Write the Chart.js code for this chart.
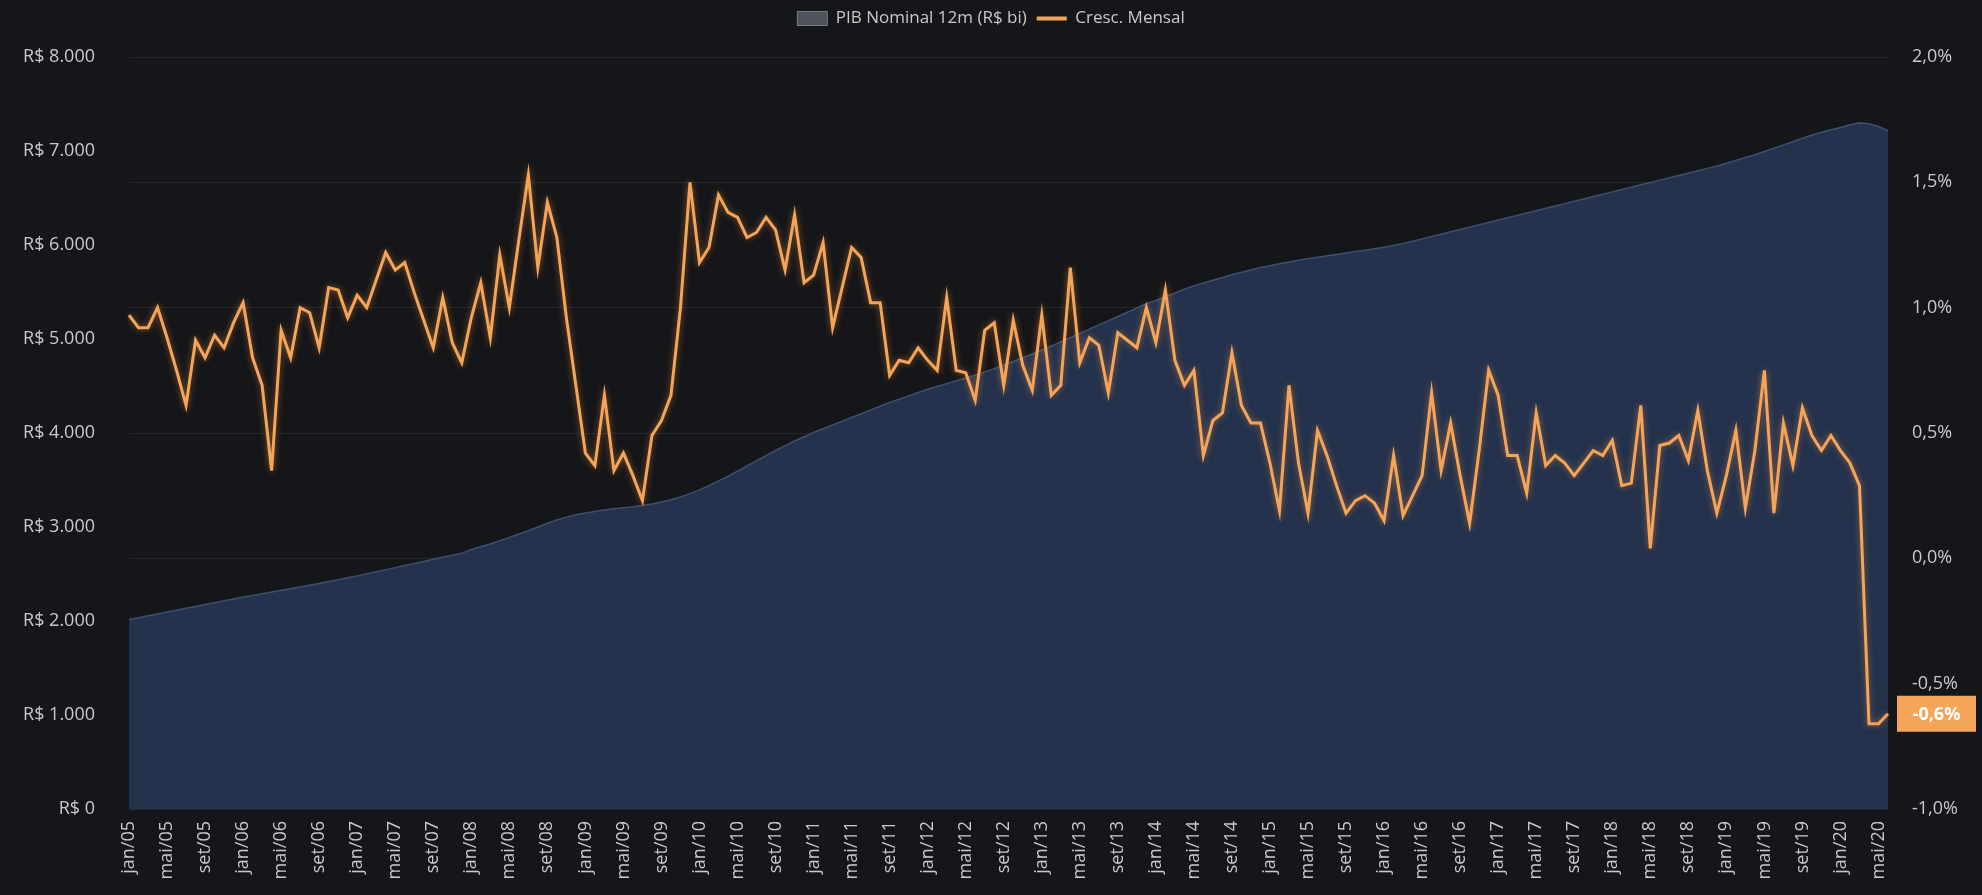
<!DOCTYPE html>
<html>
<head>
<meta charset="utf-8">
<script src="https://cdn.jsdelivr.net/npm/chart.js@4"></script>
<style>
  html, body { margin: 0; padding: 0; background: #151619; }
  #wrap { width: 1982px; height: 895px; position: relative; }
</style>
</head>
<body>
<div id="wrap"><canvas id="myChart"></canvas></div>
<script>
// meses e anos do eixo x (um ponto por mês, jan/05 a jun/20)
const meses = ["jan", "fev", "mar", "abr", "mai", "jun", "jul", "ago", "set", "out", "nov", "dez"];
const anos = ["05", "06", "07", "08", "09", "10", "11", "12", "13", "14", "15", "16", "17", "18", "19", "20"];
const ultimoMes = 6; // jun/20

// PIB nominal acumulado 12 meses (R$ bi)
const pibNominal = [
  2015, 2035, 2055, 2075, 2095, 2115, 2135, 2155, 2175, 2195, 2215, 2235,
  2255, 2272, 2290, 2308, 2326, 2344, 2362, 2380, 2400, 2420, 2440, 2460,
  2480, 2502, 2524, 2546, 2568, 2590, 2612, 2634, 2656, 2678, 2700, 2722,
  2760, 2790, 2820, 2855, 2890, 2925, 2960, 3000, 3040, 3075, 3105, 3130,
  3150, 3165, 3180, 3195, 3205, 3215, 3230, 3245, 3265, 3290, 3320, 3355,
  3395, 3440, 3490, 3540, 3595, 3650, 3705, 3760, 3815, 3865, 3915, 3960,
  4005, 4045, 4085, 4125, 4165, 4205, 4245, 4285, 4325, 4360, 4395, 4430,
  4465, 4495, 4525, 4555, 4585, 4615, 4650, 4685, 4720, 4760, 4800, 4840,
  4880, 4925, 4970, 5015, 5060, 5105, 5150, 5195, 5240, 5285, 5330, 5375,
  5410, 5450, 5490, 5530, 5565, 5595, 5625, 5655, 5685, 5710, 5735, 5760,
  5780, 5800, 5820, 5838, 5855, 5870, 5885, 5900, 5915, 5930, 5945, 5960,
  5975, 5995, 6015, 6040, 6065, 6090, 6115, 6140, 6165, 6190, 6215, 6240,
  6265, 6290, 6315, 6340, 6365, 6390, 6415, 6440, 6465, 6490, 6515, 6540,
  6565, 6590, 6615, 6640, 6665, 6690, 6715, 6740, 6765, 6790, 6815, 6840,
  6870, 6900, 6930, 6960, 6995, 7030, 7065, 7100, 7135, 7170, 7200, 7225,
  7250, 7280, 7300, 7290, 7260, 7215
];

// crescimento mensal (%)
const crescMensal = [
  0.97, 0.92, 0.92, 1.00, 0.88, 0.75, 0.61, 0.87, 0.80, 0.89, 0.84, 0.94,
  1.02, 0.80, 0.69, 0.35, 0.91, 0.80, 1.00, 0.98, 0.84, 1.08, 1.07, 0.96,
  1.05, 1.00, 1.11, 1.22, 1.15, 1.18, 1.06, 0.95, 0.84, 1.04, 0.86, 0.78,
  0.96, 1.10, 0.88, 1.21, 1.00, 1.27, 1.53, 1.16, 1.42, 1.28, 0.96, 0.69,
  0.42, 0.37, 0.65, 0.35, 0.42, 0.33, 0.23, 0.49, 0.55, 0.65, 1.00, 1.50,
  1.18, 1.24, 1.45, 1.38, 1.36, 1.28, 1.30, 1.36, 1.31, 1.15, 1.37, 1.10,
  1.13, 1.26, 0.92, 1.08, 1.24, 1.20, 1.02, 1.02, 0.73, 0.79, 0.78, 0.84,
  0.79, 0.75, 1.04, 0.75, 0.74, 0.63, 0.91, 0.94, 0.69, 0.95, 0.77, 0.67,
  0.97, 0.65, 0.69, 1.16, 0.78, 0.88, 0.85, 0.66, 0.90, 0.87, 0.84, 1.00,
  0.86, 1.07, 0.79, 0.69, 0.75, 0.41, 0.55, 0.58, 0.82, 0.61, 0.54, 0.54,
  0.38, 0.19, 0.69, 0.38, 0.18, 0.51, 0.41, 0.29, 0.18, 0.23, 0.25, 0.22,
  0.15, 0.41, 0.17, 0.25, 0.33, 0.66, 0.35, 0.54, 0.33, 0.14, 0.43, 0.75,
  0.65, 0.41, 0.41, 0.26, 0.58, 0.37, 0.41, 0.38, 0.33, 0.38, 0.43, 0.41,
  0.47, 0.29, 0.30, 0.61, 0.04, 0.45, 0.46, 0.49, 0.39, 0.59, 0.35, 0.18,
  0.33, 0.51, 0.20, 0.43, 0.75, 0.18, 0.54, 0.37, 0.60, 0.49, 0.43, 0.49,
  0.43, 0.38, 0.29, -0.66, -0.66, -0.62
];

const labels = [];
anos.forEach((ano, a) => {
  const n = a === anos.length - 1 ? ultimoMes : 12;
  for (let m = 0; m < n; m++) labels.push(meses[m] + "/" + ano);
});

const laranja = "#f5a55a";
const corTexto = "#c9c9c9";
const fonte = { family: "'Open Sans', sans-serif", size: 18 };
const fonteLegenda = { family: "'Open Sans', sans-serif", size: 17 };

const formatReais = (v) => "R$ " + String(v).replace(/\B(?=(\d{3})+(?!\d))/g, ".");
const formatPct = (v) => v.toFixed(1).replace(".", ",") + "%";

// empurra a área do gráfico um pouco para baixo da legenda
const legendaAlta = {
  id: "legendaAlta",
  beforeInit(chart) {
    const fit = chart.legend.fit;
    chart.legend.fit = function () {
      fit.bind(chart.legend)();
      this.height += 20;
    };
  },
};

// brilho suave na linha laranja
const brilho = {
  id: "brilho",
  beforeDatasetDraw(chart, args) {
    if (args.index === 1) {
      chart.ctx.save();
      chart.ctx.shadowColor = "rgba(245,150,60,0.55)";
      chart.ctx.shadowBlur = 6;
    }
  },
  afterDatasetDraw(chart, args) {
    if (args.index === 1) chart.ctx.restore();
  },
};

// etiqueta laranja com o último valor no eixo da direita
const ultimoValor = {
  id: "ultimoValor",
  afterDraw(chart) {
    const v = crescMensal[crescMensal.length - 1];
    const y = chart.scales.y1.getPixelForValue(v);
    const x0 = chart.chartArea.right + 9;
    const x1 = chart.width - 6;
    const ctx = chart.ctx;
    ctx.save();
    ctx.fillStyle = laranja;
    ctx.fillRect(x0, y - 18, x1 - x0, 36);
    ctx.fillStyle = "#ffffff";
    ctx.font = "bold 18px 'Open Sans', sans-serif";
    ctx.textAlign = "center";
    ctx.textBaseline = "middle";
    ctx.fillText(formatPct(v), (x0 + x1) / 2, y + 1);
    ctx.restore();
  },
};

const chart = document.querySelector("#myChart");

const datasets = [
  {
    label: "PIB Nominal 12m (R$ bi)",
    data: pibNominal,
    yAxisID: "y",
    fill: "origin",
    backgroundColor: "rgb(36,50,77)",
    borderColor: "rgba(66,84,118,0.9)",
    borderWidth: 1.5,
    pointRadius: 0,
    order: 2,
  },
  {
    label: "Cresc. Mensal",
    data: crescMensal,
    yAxisID: "y1",
    fill: false,
    borderColor: laranja,
    backgroundColor: laranja,
    borderWidth: 3,
    pointRadius: 0,
    tension: 0,
    order: 1,
  },
];

const config = {
  type: "line",
  data: { labels, datasets },
  options: {
    responsive: true,
    maintainAspectRatio: false,
    animation: false,
    layout: { padding: { top: 0, bottom: 4, left: 0, right: 0 } },
    plugins: {
      legend: {
        position: "top",
        labels: {
          color: corTexto,
          font: fonteLegenda,
          usePointStyle: true,
          pointStyleWidth: 30,
          boxHeight: 14,
          padding: 10,
          generateLabels: (c) => {
            const items = Chart.defaults.plugins.legend.labels.generateLabels(c);
            items.sort((a, b) => a.datasetIndex - b.datasetIndex);
            items.forEach((it) => {
              if (it.datasetIndex === 0) {
                it.pointStyle = "rect";
                it.fillStyle = "#4e525b";
                it.strokeStyle = "#7a7e87";
                it.lineWidth = 1;
              } else {
                it.pointStyle = "line";
                it.strokeStyle = laranja;
                it.lineWidth = 4;
              }
            });
            return items;
          },
        },
      },
      tooltip: { enabled: false },
    },
    scales: {
      x: {
        grid: { display: false },
        border: { display: false },
        ticks: {
          color: corTexto,
          font: fonte,
          autoSkip: false,
          minRotation: 90,
          maxRotation: 90,
          padding: 4,
          callback: (v, i) => (i % 4 === 0 ? labels[i] : ""),
        },
        afterFit: (s) => { s.height = 82; },
      },
      y: {
        position: "left",
        min: 0,
        max: 8000,
        grid: { display: false },
        border: { display: false },
        ticks: { stepSize: 1000, color: corTexto, font: fonte, padding: 26, callback: formatReais },
        afterFit: (s) => { s.width = 129; },
      },
      y1: {
        position: "right",
        min: -1,
        max: 2,
        grid: { color: "rgba(255,255,255,0.07)", drawTicks: false },
        border: { display: false },
        ticks: { stepSize: 0.5, color: corTexto, font: fonte, padding: 24, callback: formatPct },
        afterFit: (s) => { s.width = 94; },
      },
    },
  },
  plugins: [legendaAlta, brilho, ultimoValor],
};

const myChart = new Chart(chart, config);
</script>
</body>
</html>
